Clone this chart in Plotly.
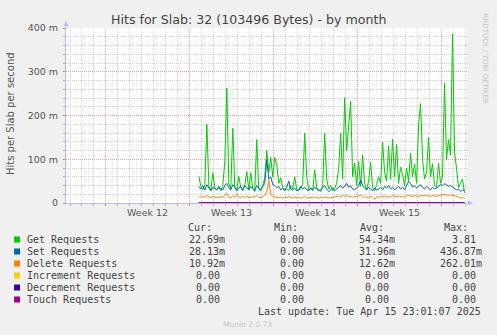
import datetime as dt
import plotly.graph_objects as go

# ---------------- data (values in milli-hits/s) ----------------
start_time = dt.datetime(2025, 3, 24, 18, 0)
step_hours = 4

get_requests = [
    61, 38, 30, 42, 180, 40, 28, 69, 34, 30,
    36, 28, 40, 95, 263, 45, 32, 171, 38, 30,
    61, 35, 28, 40, 72, 30, 69, 33, 26, 145,
    32, 28, 40, 58, 120, 70, 104, 60, 104, 88,
    45, 58, 36, 30, 33, 28, 40, 32, 60, 30,
    28, 36, 42, 160, 61, 30, 34, 28, 76, 35,
    30, 26, 38, 160, 55, 32, 40, 28, 34, 45,
    80, 160, 55, 241, 120, 177, 232, 60, 91, 40,
    95, 38, 110, 45, 30, 50, 93, 35, 28, 42,
    60, 45, 139, 70, 50, 130, 55, 146, 60, 134,
    45, 82, 65, 40, 80, 50, 114, 60, 89, 45,
    179, 227, 100, 55, 70, 150, 60, 90, 40, 35,
    91, 45, 60, 274, 100, 145, 110, 386, 115, 80,
    35, 45, 55, 23,
]
set_requests = [
    38, 32, 40, 30, 42, 35, 28, 36, 33, 30,
    38, 32, 30, 40, 45, 35, 30, 42, 36, 28,
    34, 38, 30, 40, 35, 30, 38, 32, 28, 40,
    35, 30, 38, 45, 99, 55, 60, 42, 40, 35,
    38, 30, 34, 28, 36, 50, 32, 30, 34, 28,
    30, 38, 32, 36, 30, 28, 34, 30, 36, 32,
    28, 30, 35, 40, 32, 26, 30, 35, 28, 32,
    36, 40, 34, 38, 45, 36, 40, 32, 30, 35,
    38, 53, 40, 34, 30, 36, 32, 28, 34, 30,
    32, 36, 30, 38, 34, 40, 32, 36, 30, 34,
    38, 32, 36, 30, 40, 49, 45, 36, 40, 34,
    38, 42, 36, 32, 38, 34, 30, 36, 32, 34,
    38, 42, 40, 44, 42, 38, 40, 37, 35, 30,
    32, 26, 30, 28,
]
delete_requests = [
    15, 13, 16, 12, 17, 14, 12, 15, 13, 14,
    12, 15, 13, 18, 22, 14, 12, 16, 13, 21,
    14, 12, 15, 13, 16, 12, 14, 13, 15, 17,
    13, 12, 15, 18, 25, 53, 20, 15, 14, 13,
    12, 14, 11, 13, 12, 15, 12, 11, 14, 12,
    13, 11, 12, 15, 12, 11, 13, 12, 14, 12,
    11, 13, 12, 14, 12, 11, 13, 12, 14, 15,
    16, 14, 18, 15, 17, 14, 16, 13, 15, 14,
    16, 18, 15, 13, 14, 12, 15, 13, 8, 14,
    13, 15, 14, 16, 13, 15, 14, 17, 15, 14,
    16, 14, 15, 13, 16, 18, 16, 15, 17, 16,
    15, 17, 16, 18, 17, 16, 15, 17, 16, 15,
    17, 18, 19, 20, 18, 17, 19, 18, 17, 16,
    14, 11, 13, 11,
]
increment_requests = [0] * len(get_requests)
decrement_requests = [0] * len(get_requests)
touch_requests = [0] * len(get_requests)

series_names = ["Get Requests", "Set Requests", "Delete Requests",
                "Increment Requests", "Decrement Requests", "Touch Requests"]
series_colors = ["#00CC00", "#0066B3", "#FF8000", "#FFCC00", "#330099", "#990099"]
cur_values = ["22.69m", "28.13m", "10.92m", "0.00", "0.00", "0.00"]
min_values = ["0.00", "0.00", "0.00", "0.00", "0.00", "0.00"]
avg_values = ["54.34m", "31.96m", "12.62m", "0.00", "0.00", "0.00"]
max_values = ["3.81", "436.87m", "262.01m", "0.00", "0.00", "0.00"]

y_tick_vals = [0, 100, 200, 300, 400]
y_tick_text = ["0", "100 m", "200 m", "300 m", "400 m"]
week_label_dates = ["2025-03-20 12:00", "2025-03-27 12:00", "2025-04-03 12:00", "2025-04-10 12:00"]
week_labels = ["Week 12", "Week 13", "Week 14", "Week 15"]
x_range = ["2025-03-13 16:00", "2025-04-16 03:00"]

times = [start_time + dt.timedelta(hours=step_hours * i) for i in range(len(get_requests))]
all_series = [get_requests, set_requests, delete_requests,
              increment_requests, decrement_requests, touch_requests]

# ---------------- layout helpers ----------------
W, H = 497, 335
L, R, T, B = 66, 467.5, 28, 203


def fx(px):
    return (px - L) / (R - L)


def fy(py):
    return (B - py) / (B - T)


fig = go.Figure()
for name, color, vals in zip(series_names, series_colors, all_series):
    fig.add_trace(go.Scatter(
        x=times, y=vals, mode="lines", name=name,
        line=dict(color=color, width=2 if max(vals) == 0 else 1),
        hoverinfo="skip", showlegend=False,
    ))

grid_red = "#E9A3A3"
grid_gray = "#D2D2D2"
axis_col = "#B4BEEA"
dots = "1px,1px"

fig.update_layout(
    width=W, height=H,
    margin=dict(l=L, r=W - R, t=T, b=H - B, pad=0),
    paper_bgcolor="#F0F0F0", plot_bgcolor="#FFFFFF",
    font=dict(family="DejaVu Sans", color="#555555"),
    showlegend=False,
    xaxis=dict(
        type="date", range=x_range,
        tickmode="linear", tick0="2025-03-17", dtick=7 * 86400000,
        showticklabels=False,
        showgrid=True, gridcolor=grid_red, griddash=dots, gridwidth=1,
        ticks="outside", ticklen=2, tickcolor="#E07070",
        minor=dict(showgrid=True, tick0="2025-03-17", dtick=86400000,
                   gridcolor=grid_gray, griddash=dots,
                   ticks="outside", ticklen=2, tickcolor="#B0B0B0"),
        showline=True, linecolor=axis_col, linewidth=1,
        zeroline=False, layer="below traces", fixedrange=True,
    ),
    yaxis=dict(
        range=[0, 400],
        tickmode="array", tickvals=y_tick_vals, ticktext=y_tick_text,
        tickfont=dict(size=9.5, color="#555555"),
        showgrid=True, gridcolor=grid_red, griddash=dots, gridwidth=1,
        ticks="outside", ticklen=2, tickcolor="#E07070",
        ticklabelstandoff=3,
        minor=dict(showgrid=True, dtick=20, gridcolor=grid_gray, griddash=dots,
                   ticks="outside", ticklen=2, tickcolor="#B0B0B0"),
        showline=True, linecolor=axis_col, linewidth=1,
        zeroline=False, layer="below traces", fixedrange=True,
    ),
)

shapes = []
# axis extensions and arrowheads
shapes.append(dict(type="line", xref="paper", yref="paper",
                   x0=fx(R), x1=fx(471), y0=0, y1=0, line=dict(color=axis_col, width=1)))
shapes.append(dict(type="path", xref="paper", yref="paper",
                   path=f"M {fx(468.5)},{fy(200.5)} L {fx(473.5)},{fy(203)} L {fx(468.5)},{fy(205.5)} Z",
                   fillcolor=axis_col, line=dict(width=0)))
shapes.append(dict(type="line", xref="paper", yref="paper",
                   x0=0, x1=0, y0=1, y1=fy(24), line=dict(color=axis_col, width=1)))
shapes.append(dict(type="path", xref="paper", yref="paper",
                   path=f"M {fx(63.5)},{fy(26)} L {fx(66)},{fy(21)} L {fx(68.5)},{fy(26)} Z",
                   fillcolor=axis_col, line=dict(width=0)))

annotations = []
annotations.append(dict(text="Hits for Slab: 32 (103496 Bytes) - by month",
                        x=fx(248.7), y=fy(20), xref="paper", yref="paper",
                        xanchor="center", yanchor="middle", showarrow=False,
                        font=dict(size=12.6, color="#444444", family="DejaVu Sans")))
annotations.append(dict(text="Hits per Slab per second", textangle=-90,
                        x=fx(10), y=fy(114), xref="paper", yref="paper",
                        xanchor="center", yanchor="middle", showarrow=False,
                        font=dict(size=10, color="#555555", family="DejaVu Sans")))
annotations.append(dict(text="RRDTOOL / TOBI OETIKER", textangle=90,
                        x=fx(486.5), y=fy(58.5), xref="paper", yref="paper",
                        xanchor="center", yanchor="middle", showarrow=False,
                        font=dict(size=7, color="#C4C4C4", family="DejaVu Sans")))
for d, lab in zip(week_label_dates, week_labels):
    annotations.append(dict(text=lab, x=d, y=fy(212.7), xref="x", yref="paper",
                            xanchor="center", yanchor="middle", showarrow=False,
                            font=dict(size=9.5, color="#555555", family="DejaVu Sans")))

mono = dict(family="DejaVu Sans Mono", size=10, color="#444444")
for hdr, edge in zip(["Cur:", "Min:", "Avg:", "Max:"], [213.3, 299.3, 385, 470]):
    annotations.append(dict(text=hdr, x=fx(edge), y=fy(227), xref="paper", yref="paper",
                            xanchor="right", yanchor="middle", showarrow=False,
                            borderpad=0, font=mono))

col_edges = [226.7, 311, 396.7, 483.3]
for k, (name, color) in enumerate(zip(series_names, series_colors)):
    yc = 239.5 + 12 * k
    shapes.append(dict(type="rect", xref="paper", yref="paper",
                       x0=fx(14), x1=fx(20), y0=fy(yc - 3), y1=fy(yc + 3),
                       fillcolor=color, line=dict(width=0)))
    annotations.append(dict(text=name.replace(" ", "&nbsp;"), x=fx(26), y=fy(yc),
                            xref="paper", yref="paper",
                            xanchor="left", yanchor="middle", showarrow=False,
                            borderpad=0, font=mono))
    for vals, edge in zip([cur_values, min_values, avg_values, max_values], col_edges):
        v = vals[k]
        e = edge if v.endswith("m") else edge - 6
        annotations.append(dict(text=v, x=fx(e), y=fy(yc), xref="paper", yref="paper",
                                xanchor="right", yanchor="middle", showarrow=False,
                                borderpad=0, font=mono))

annotations.append(dict(text="Last&nbsp;update:&nbsp;Tue&nbsp;Apr&nbsp;15&nbsp;23:01:07&nbsp;2025",
                        x=fx(483), y=fy(311.3), xref="paper", yref="paper",
                        xanchor="right", yanchor="middle", showarrow=False,
                        borderpad=0, font=mono))
annotations.append(dict(text="Munin 2.0.73", x=fx(247.5), y=fy(324), xref="paper", yref="paper",
                        xanchor="center", yanchor="middle", showarrow=False,
                        font=dict(size=7.5, color="#C4C4C4", family="DejaVu Sans")))

fig.update_layout(shapes=shapes, annotations=annotations)
fig.write_html("out.html")
